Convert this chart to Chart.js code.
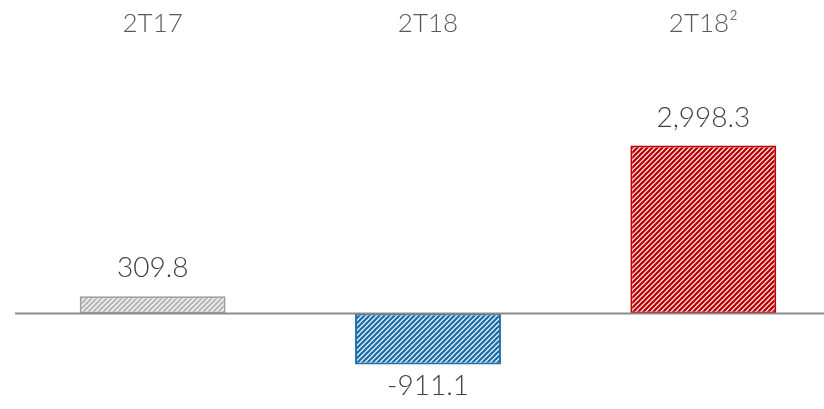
<!DOCTYPE html>
<html>
<head>
<meta charset="utf-8">
<script src="https://cdn.jsdelivr.net/npm/chart.js@4.4.0/dist/chart.umd.min.js"></script>
<style>
html,body{margin:0;padding:0;background:#fff;overflow:hidden;width:824px;height:409px;}
#wrap{width:841px;height:409px;}
</style>
</head>
<body>
<div id="wrap"><canvas id="c" width="841" height="409"></canvas></div>
<script>
const categories = ["2T17", "2T18", "2T18²"];
const values = [309.8, -911.1, 2998.3];
const valueLabels = ["309.8", "-911.1", "2,998.3"];
const stripeColors = ["#b8b8b8", "#1f6fa8", "#c00000"];
const borderColors = ["#a0a0a0", "#1f6fa8", "#c00000"];

function makePattern(color) {
  const p = 5;
  const c = document.createElement('canvas');
  c.width = p; c.height = p;
  const g = c.getContext('2d');
  g.fillStyle = '#ffffff';
  g.fillRect(0, 0, p, p);
  g.strokeStyle = color;
  g.lineWidth = 2.3;
  g.lineCap = 'square';
  g.beginPath();
  g.moveTo(0, p); g.lineTo(p, 0);
  g.moveTo(-p, p); g.lineTo(0, 0);
  g.moveTo(p, 2*p); g.lineTo(2*p, p);
  g.moveTo(-1, 1); g.lineTo(1, -1);
  g.moveTo(p-1, p+1); g.lineTo(p+1, p-1);
  g.stroke();
  return document.getElementById('c').getContext('2d').createPattern(c, 'repeat');
}

const FONT = "Lato, 'Open Sans', sans-serif";

const overlay = {
  id: 'overlay',
  afterDatasetsDraw(chart) {
    const ctx = chart.ctx;
    const x = chart.scales.x, y = chart.scales.y;
    const y0 = y.getPixelForValue(0);
    ctx.save();
    ctx.strokeStyle = '#8c8c8c';
    ctx.lineWidth = 2;
    ctx.beginPath();
    ctx.moveTo(15, y0);
    ctx.lineTo(chart.width, y0);
    ctx.stroke();
    ctx.fillStyle = '#595959';
    ctx.font = "300 26px " + FONT;
    ctx.textAlign = 'center';
    ctx.textBaseline = 'middle';
    categories.forEach((c, i) => {
      ctx.fillText(c, x.getPixelForValue(i), 24);
    });
    ctx.fillStyle = '#404040';
    ctx.font = "300 28px " + FONT;
    const meta = chart.getDatasetMeta(0);
    meta.data.forEach((bar, i) => {
      const v = values[i];
      const yy = v >= 0 ? bar.y - 28 : bar.y + 21;
      ctx.fillText(valueLabels[i], bar.x, yy);
    });
    ctx.restore();
  }
};

new Chart(document.getElementById('c'), {
  type: 'bar',
  data: {
    labels: categories,
    datasets: [{
      data: values,
      backgroundColor: stripeColors.map(makePattern),
      borderColor: borderColors,
      borderWidth: 2,
      borderSkipped: false,
      categoryPercentage: 1,
      barPercentage: 0.53
    }]
  },
  options: {
    responsive: false,
    animation: false,
    devicePixelRatio: 1,
    layout: { padding: { left: 15, right: 0, top: 60, bottom: 1 } },
    plugins: { legend: { display: false }, tooltip: { enabled: false } },
    scales: {
      x: { display: false },
      y: { display: false, min: -1687, max: 4527 }
    }
  },
  plugins: [overlay]
});
</script>
</body>
</html>
